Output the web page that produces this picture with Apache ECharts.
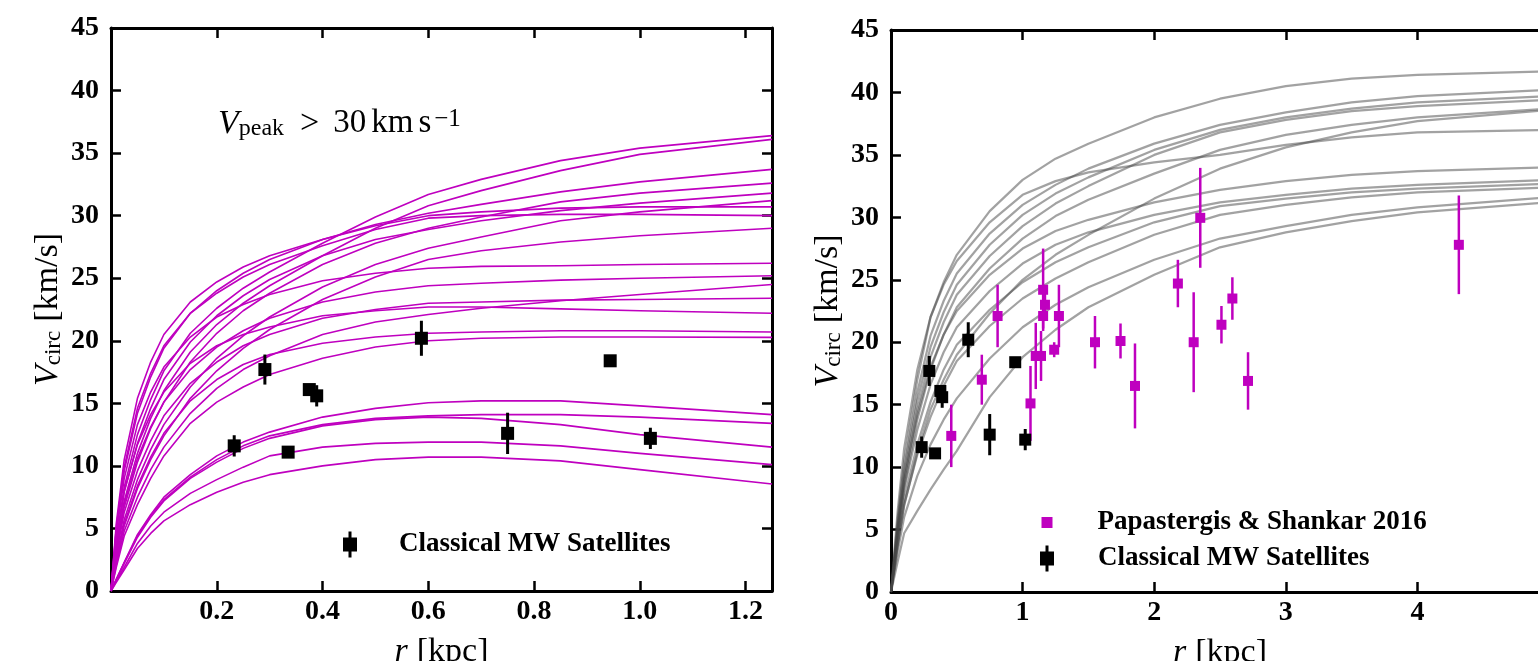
<!DOCTYPE html>
<html>
<head>
<meta charset="utf-8">
<script src="https://cdn.jsdelivr.net/npm/echarts@6/dist/echarts.min.js"></script>
<style>
  html, body { margin: 0; padding: 0; background: #fff; }
  #chart { width: 1538px; height: 661px; }
</style>
</head>
<body>
<div id="chart"></div>
<script>
// ---------- data ----------
// Radii (kpc) at which the simulated rotation curves are sampled, left panel
const leftRadii = [0, 0.01, 0.025, 0.05, 0.075, 0.1, 0.15, 0.2, 0.25, 0.3, 0.4, 0.5, 0.6, 0.7, 0.85, 1.0, 1.25];
// Circular velocity (km/s) of each subhalo with Vpeak > 30 km/s
const leftCurves = [
  [0, 4.0, 8.3, 12.5, 15.3, 17.6, 20.6, 22.6, 24.2, 25.5, 27.8, 29.9, 31.7, 32.9, 34.4, 35.4, 36.4],
  [0, 3.4, 7.2, 11.0, 13.8, 16.0, 19.1, 21.3, 23.0, 24.4, 26.8, 29.0, 30.8, 32.0, 33.6, 34.9, 36.1],
  [0, 4.9, 9.6, 14.2, 17.1, 19.4, 22.2, 24.0, 25.4, 26.5, 28.1, 29.3, 30.2, 30.9, 31.9, 32.7, 33.7],
  [0, 5.4, 10.5, 15.4, 18.3, 20.5, 23.1, 24.7, 25.9, 26.8, 28.1, 29.2, 30.0, 30.3, 30.6, 30.7, 30.7],
  [0, 5.1, 9.9, 14.6, 17.4, 19.6, 22.2, 23.8, 25.1, 26.1, 27.6, 28.9, 29.8, 30.0, 30.1, 30.1, 30.0],
  [0, 3.1, 6.7, 10.3, 13.0, 15.1, 18.3, 20.6, 22.4, 23.8, 26.1, 27.8, 29.0, 29.9, 31.1, 31.8, 32.6],
  [0, 3.7, 7.9, 11.8, 14.6, 16.9, 19.9, 22.0, 23.6, 24.9, 26.8, 28.1, 28.9, 29.6, 30.4, 31.0, 31.8],
  [0, 2.6, 5.7, 8.9, 11.3, 13.3, 16.3, 18.6, 20.4, 21.9, 24.3, 26.1, 27.4, 28.3, 29.6, 30.3, 31.2],
  [0, 2.4, 5.2, 8.2, 10.5, 12.4, 15.4, 17.6, 19.4, 20.9, 23.3, 25.1, 26.5, 27.2, 27.9, 28.4, 29.0],
  [0, 4.6, 9.0, 13.3, 15.9, 17.9, 20.3, 21.9, 22.9, 23.7, 24.8, 25.4, 25.8, 25.95, 26.0, 26.1, 26.2],
  [0, 3.3, 7.0, 10.6, 13.1, 15.1, 17.7, 19.5, 20.8, 21.8, 23.1, 23.9, 24.4, 24.6, 24.85, 25.0, 25.2],
  [0, 2.9, 6.3, 9.6, 12.0, 14.0, 16.6, 18.3, 19.6, 20.5, 21.8, 22.5, 23.0, 23.1, 23.25, 23.3, 23.4],
  [0, 3.9, 8.0, 11.7, 14.1, 15.9, 18.2, 19.6, 20.5, 21.1, 22.0, 22.4, 22.7, 22.7, 22.55, 22.4, 22.2],
  [0, 2.1, 4.8, 7.5, 9.7, 11.5, 14.2, 16.2, 17.7, 18.8, 20.5, 21.5, 22.1, 22.6, 23.2, 23.7, 24.5],
  [0, 2.4, 5.4, 8.4, 10.7, 12.6, 15.2, 16.9, 18.1, 18.9, 19.8, 20.3, 20.6, 20.7, 20.8, 20.8, 20.7],
  [0, 1.9, 4.4, 6.9, 9.0, 10.8, 13.4, 15.1, 16.3, 17.3, 18.6, 19.5, 20.0, 20.2, 20.3, 20.3, 20.27],
  [0, 0.95, 2.3, 4.5, 6.1, 7.5, 9.3, 10.8, 11.9, 12.7, 13.9, 14.6, 15.05, 15.2, 15.2, 14.8, 14.1],
  [0, 0.9, 2.25, 4.4, 6.0, 7.3, 9.1, 10.5, 11.6, 12.4, 13.3, 13.8, 14.0, 14.1, 14.1, 13.9, 13.4],
  [0, 0.9, 2.2, 4.3, 5.9, 7.2, 9.0, 10.3, 11.4, 12.2, 13.2, 13.7, 13.9, 13.8, 13.3, 12.5, 11.5],
  [0, 0.8, 1.9, 3.8, 5.2, 6.3, 7.8, 8.9, 9.9, 10.8, 11.5, 11.8, 11.9, 11.9, 11.6, 11.0, 10.1],
  [0, 0.7, 1.7, 3.4, 4.6, 5.6, 6.9, 7.9, 8.7, 9.3, 10.0, 10.5, 10.7, 10.7, 10.4, 9.7, 8.55]
];

// Radii (kpc) for the right-hand rotation curves
const rightRadii = [0, 0.05, 0.1, 0.2, 0.3, 0.4, 0.5, 0.75, 1.0, 1.25, 1.5, 2.0, 2.5, 3.0, 3.5, 4.0, 5.0];
const rightCurves = [
  [0, 5.8, 10.5, 17.0, 22.0, 24.8, 27.0, 30.5, 33.0, 34.7, 35.9, 38.0, 39.5, 40.5, 41.1, 41.4, 41.7],
  [0, 6.4, 11.5, 17.8, 22.0, 24.6, 26.5, 29.6, 31.8, 32.9, 33.6, 34.4, 35.0, 35.8, 36.4, 36.8, 37.0],
  [0, 5.4, 9.8, 16.0, 20.5, 23.3, 25.5, 28.7, 31.0, 32.6, 33.9, 35.9, 37.4, 38.4, 39.2, 39.7, 40.2],
  [0, 5.1, 9.4, 15.3, 19.6, 22.4, 24.6, 27.8, 30.2, 31.9, 33.2, 35.4, 37.0, 38.0, 38.7, 39.2, 39.7],
  [0, 4.8, 8.9, 14.6, 18.8, 21.6, 23.8, 26.9, 29.3, 31.1, 32.5, 35.0, 36.8, 37.8, 38.5, 38.9, 39.4],
  [0, 4.5, 8.4, 13.8, 17.8, 20.6, 22.8, 25.9, 28.3, 30.1, 31.4, 33.5, 35.4, 36.6, 37.4, 38.0, 38.7],
  [0, 4.9, 9.0, 14.2, 18.0, 20.6, 22.5, 25.4, 27.5, 28.9, 29.8, 31.2, 32.2, 32.9, 33.4, 33.7, 34.0],
  [0, 4.4, 8.2, 13.0, 16.6, 19.2, 21.2, 24.1, 26.3, 27.8, 28.8, 30.2, 31.2, 31.8, 32.3, 32.6, 33.0],
  [0, 3.7, 6.9, 11.2, 14.6, 17.0, 19.0, 22.3, 25.0, 27.0, 28.6, 31.5, 33.9, 35.6, 36.8, 37.7, 38.6],
  [0, 4.0, 7.5, 11.8, 15.2, 17.8, 19.8, 22.6, 24.8, 26.4, 27.6, 29.6, 30.9, 31.5, 32.0, 32.3, 32.7],
  [0, 3.7, 7.0, 11.0, 14.0, 16.5, 18.5, 21.3, 23.5, 25.1, 26.4, 28.6, 30.2, 31.0, 31.6, 32.0, 32.4],
  [0, 3.2, 6.0, 9.3, 11.8, 13.8, 15.5, 18.7, 21.2, 23.0, 24.4, 26.6, 28.3, 29.3, 30.2, 30.8, 31.6],
  [0, 2.4, 4.7, 6.5, 8.2, 9.8, 11.3, 15.6, 18.8, 21.0, 22.8, 25.4, 27.6, 28.8, 29.7, 30.4, 31.2]
];

// Classical Milky Way satellites: half-light radius (kpc), Vcirc (km/s), error
const mwRadius = [0.233, 0.291, 0.335, 0.375, 0.389, 0.587, 0.750, 0.944, 1.020];
const mwVcirc  = [11.6, 17.7, 11.1, 16.1, 15.6, 20.2, 12.6, 18.4, 12.2];
const mwError  = [0.85, 1.2, 0.4, 0.4, 0.85, 1.4, 1.65, 0.3, 0.85];

// Papastergis & Shankar 2016 field dwarfs
const psRadius = [0.458, 0.69, 0.81, 1.06, 1.10, 1.14, 1.156, 1.17, 1.156, 1.24, 1.276,
                  1.55, 1.744, 1.854, 2.18, 2.30, 2.35, 2.511, 2.594, 2.713, 4.315];
const psVcirc  = [12.5, 17.0, 22.1, 15.1, 18.9, 18.9, 24.2, 23.0, 22.1, 19.4, 22.1,
                  20.0, 20.1, 16.5, 24.7, 20.0, 29.96, 21.4, 23.5, 16.9, 27.8];
const psError  = [2.5, 2.0, 2.5, 3.0, 2.65, 2.0, 3.3, 1.0, 1.0, 0.6, 2.5,
                  2.1, 1.4, 3.4, 1.9, 4.0, 4.0, 1.5, 1.7, 2.3, 3.95];

// Axis ranges [min, max, interval]
const leftXRange  = [0, 1.25, 0.2];
const rightXRange = [0, 5, 1];
const vRange      = [0, 45, 5];

const MW_NAME = 'Classical MW Satellites';
const PS_NAME = 'Papastergis & Shankar 2016';

// ---------- styling ----------
const SERIF = 'Liberation Serif';
const MAGENTA = '#bf00bf';
const tickFont = { fontFamily: SERIF, fontWeight: 'bold', fontSize: 28, color: '#000' };
const legendFont = { fontFamily: SERIF, fontWeight: 'bold', fontSize: 27, color: '#000' };
// square marker with a vertical error bar, used as legend icon
const BAR_ICON = 'path://M5.5,0 H8.5 V6 H14 V20 H8.5 V26 H5.5 V20 H0 V6 H5.5 Z';

const nameRich = {
  v: { fontFamily: SERIF, fontStyle: 'italic', fontSize: 34, lineHeight: 34, verticalAlign: 'top', color: '#000' },
  s: { fontFamily: SERIF, fontSize: 23, lineHeight: 23, padding: [13, 0, 0, 0], verticalAlign: 'bottom', color: '#000' },
  t: { fontFamily: SERIF, fontSize: 34, lineHeight: 34, verticalAlign: 'top', padding: [0, 0, 0, 9], color: '#000' }
};

function frameAxis(gridIndex, position, range, labels, extra) {
  return Object.assign({
    type: 'value', gridIndex: gridIndex, position: position,
    min: range[0], max: range[1], interval: range[2],
    axisLine: { show: true, onZero: false, lineStyle: { color: '#000', width: 3 } },
    axisTick: { show: true, inside: true, length: 10, lineStyle: { color: '#000', width: 2.5 } },
    axisLabel: labels ? Object.assign({}, tickFont, labels) : { show: false },
    splitLine: { show: false }
  }, extra || {});
}

const xName = { name: '{v|r}{t|[kpc]}', nameLocation: 'middle', nameGap: 44, nameTextStyle: { rich: nameRich } };
const yName = { name: '{v|V}{s|circ}{t|[km/s]}', nameLocation: 'middle', nameGap: 46, nameTextStyle: { rich: nameRich } };

function curveSeries(radii, curves, xi, color, width) {
  return curves.map(function (vals) {
    return {
      type: 'line', xAxisIndex: xi, yAxisIndex: xi,
      data: radii.map(function (r, i) { return [r, vals[i]]; }),
      symbol: 'none', silent: true,
      lineStyle: { color: color, width: width, join: 'round' }, z: 2
    };
  });
}

function errorBars(xi, rs, vs, es, color, width) {
  return {
    type: 'custom', xAxisIndex: xi, yAxisIndex: xi, silent: true, z: 5,
    data: rs.map(function (r, i) { return [r, vs[i], es[i]]; }),
    encode: { x: 0, y: 1 },
    renderItem: function (params, api) {
      const r = api.value(0), v = api.value(1), e = api.value(2);
      const a = api.coord([r, v + e]);
      const b = api.coord([r, v - e]);
      return { type: 'line', shape: { x1: a[0], y1: a[1], x2: b[0], y2: b[1] },
               style: { stroke: color, lineWidth: width } };
    }
  };
}

function points(xi, name, rs, vs, color, size) {
  return {
    type: 'scatter', name: name, xAxisIndex: xi, yAxisIndex: xi, silent: true, z: 6,
    data: rs.map(function (r, i) { return [r, vs[i]]; }),
    symbol: 'rect', symbolSize: size, itemStyle: { color: color, opacity: 1 }
  };
}

const option = {
  animation: false,
  backgroundColor: '#fff',
  grid: [
    { left: 111, top: 28, width: 661, height: 563, outerBoundsMode: 'none', containLabel: false },
    { left: 891, top: 30, width: 658, height: 562, outerBoundsMode: 'none', containLabel: false }
  ],
  xAxis: [
    frameAxis(0, 'bottom', leftXRange, { margin: 7, formatter: function (v) { return v === 0 ? '' : v.toFixed(1); } }, xName),
    frameAxis(1, 'bottom', rightXRange, { margin: 7, formatter: function (v) { return String(v); } }, xName),
    frameAxis(0, 'top', leftXRange, null),
    frameAxis(1, 'top', rightXRange, null)
  ],
  yAxis: [
    frameAxis(0, 'left', vRange, { margin: 12 }, yName),
    frameAxis(1, 'left', vRange, { margin: 12 }, yName),
    frameAxis(0, 'right', vRange, null),
    frameAxis(1, 'right', vRange, null)
  ],
  legend: [
    { left: 343, top: 531, padding: 0, itemWidth: 14, itemHeight: 26, selectedMode: false,
      data: [{ name: MW_NAME, icon: BAR_ICON }],
      textStyle: Object.assign({ padding: [0, 0, 0, 37] }, legendFont) },
    { left: 1041.5, top: 509, padding: 0, itemWidth: 11, itemHeight: 11, selectedMode: false,
      data: [{ name: PS_NAME, icon: 'rect' }],
      textStyle: Object.assign({ padding: [0, 0, 0, 40] }, legendFont) },
    { left: 1040, top: 545, padding: 0, itemWidth: 14, itemHeight: 26, selectedMode: false,
      data: [{ name: MW_NAME, icon: BAR_ICON }],
      textStyle: Object.assign({ padding: [0, 0, 0, 39] }, legendFont) }
  ],
  graphic: [
    {
      type: 'text', left: 218, top: 104, z: 10,
      style: {
        text: '{v|V}{s|peak}{g|>}{n|30}{u|km}{w|s}{p|\u22121}',
        rich: {
          v: { fontFamily: SERIF, fontStyle: 'italic', fontSize: 34, lineHeight: 34, verticalAlign: 'top' },
          s: { fontFamily: SERIF, fontSize: 24, lineHeight: 24, padding: [13, 0, 0, 0], verticalAlign: 'bottom' },
          g: { fontFamily: SERIF, fontSize: 34, lineHeight: 34, verticalAlign: 'top', padding: [0, 14, 0, 16] },
          n: { fontFamily: SERIF, fontSize: 33, lineHeight: 34, verticalAlign: 'top' },
          u: { fontFamily: SERIF, fontSize: 33, lineHeight: 34, verticalAlign: 'top', padding: [0, 0, 0, 5] },
          w: { fontFamily: SERIF, fontSize: 33, lineHeight: 34, verticalAlign: 'top', padding: [0, 0, 0, 5] },
          p: { fontFamily: SERIF, fontSize: 25, lineHeight: 22, verticalAlign: 'top', padding: [0, 0, 0, 3] }
        },
        fill: '#000'
      }
    }
  ],
  series: [].concat(
    curveSeries(leftRadii, leftCurves, 0, MAGENTA, 1.6),
    [errorBars(0, mwRadius, mwVcirc, mwError, '#000', 3),
     points(0, MW_NAME, mwRadius, mwVcirc, '#000', 13)],
    curveSeries(rightRadii, rightCurves, 1, 'rgba(70,70,70,0.5)', 2.2),
    [errorBars(1, psRadius, psVcirc, psError, MAGENTA, 2.5),
     points(1, PS_NAME, psRadius, psVcirc, MAGENTA, 10),
     errorBars(1, mwRadius, mwVcirc, mwError, '#000', 3),
     points(1, MW_NAME, mwRadius, mwVcirc, '#000', 12)]
  )
};

const chart = echarts.init(document.getElementById('chart'), null, { renderer: 'canvas' });
chart.setOption(option);
</script>
</body>
</html>
